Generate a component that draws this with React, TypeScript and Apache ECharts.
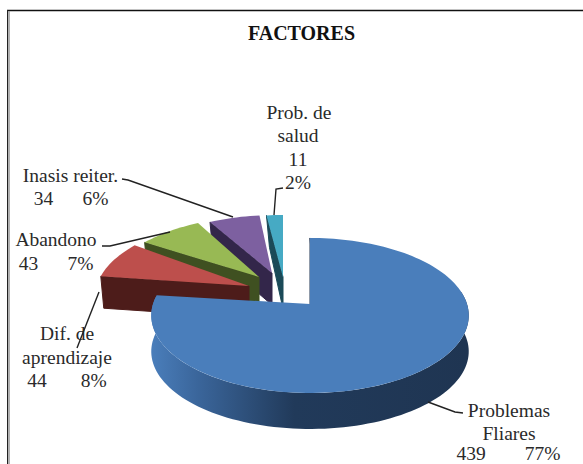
import React, { useEffect, useRef } from "react";
import * as echarts from "echarts";

const categories = ["Problemas Fliares", "Dif. de aprendizaje", "Abandono", "Inasis reiter.", "Prob. de salud"];
const values = [439, 44, 43, 34, 11];
const percents = ["77%", "8%", "7%", "6%", "2%"];
const topColors = ["#4a7ebb", "#bd4f4c", "#98b954", "#7d60a0", "#46aac4"];
const sideColors = ["#1f3552", "#4d1c1a", "#3f5021", "#33264a", "#1b4a58"];
const explodeX = [0, -56, -46, -34, -27];
const explodeY = [0, -19, -22, -23, -23];
const apexNudgeX = [0, -5, -5, -4, 0];
const apexNudgeY = [0, 1, -5, -8, -4];
const depths = [36, 32, 32, 32, 32];

const CX = 310, CY = 304, RX = 157, RY = 75.8, K = 0.148;
const total = values.reduce((a, b) => a + b, 0);

function project(deg: number): [number, number] {
  const t = (deg * Math.PI) / 180;
  const u = Math.sin(t), v = -Math.cos(t);
  const w = 1 - K * v;
  return [CX + (RX * u) / w, CY + (RY * v) / w];
}
function arc(a: number, b: number): [number, number][] {
  const n = Math.max(4, Math.ceil(Math.abs(b - a) / 2));
  const out: [number, number][] = [];
  for (let i = 0; i <= n; i++) out.push(project(a + ((b - a) * i) / n));
  return out;
}
const pts = (list: [number, number][], dx: number, dy: number) =>
  list.map((p) => [p[0] + dx, p[1] + dy]);

const renderSlice = (_params: any, api: any) => {
  const idx = api.value(0);
  const val = api.value(1);
  let before = 0;
  for (let i = 0; i < idx; i++) before += values[i];
  const a0 = (before / total) * 360;
  const a1 = ((before + val) / total) * 360;
  const dx = explodeX[idx], dy = explodeY[idx], d = depths[idx];
  const apex: [number, number] = [CX + dx + apexNudgeX[idx], CY + dy + apexNudgeY[idx]];
  const outer = pts(arc(a0, a1), dx, dy) as [number, number][];
  const children: any[] = [];
  const s = outer[0];
  children.push({
    type: "polygon",
    shape: { points: [s, apex, [apex[0], apex[1] + d], [s[0] + 3, s[1] + d]] },
    style: { fill: sideColors[idx], stroke: sideColors[idx], lineWidth: 1 },
  });
  if (idx === 0) {
    const wallArc = arc(80, a1);
    const wall = [...wallArc, ...wallArc.slice().reverse().map((p) => [p[0], p[1] + d] as [number, number])];
    children.push({
      type: "polygon",
      shape: { points: wall },
      style: {
        fill: new echarts.graphic.LinearGradient(1, 0, 0, 0, [
          { offset: 0, color: "#1f3552" },
          { offset: 0.55, color: "#213a5a" },
          { offset: 0.85, color: "#3a659a" },
          { offset: 1, color: "#4a7ebb" },
        ]),
      },
    });
  }
  children.push({
    type: "polygon",
    shape: { points: [apex, ...outer] },
    style: { fill: topColors[idx] },
  });
  return { type: "group", children };
};

const textStyle = { fontFamily: "Liberation Serif", fontSize: 19.5, fill: "#2a2a2a" };
const label = (x: number, y: number, text: string) => ({
  type: "text",
  x,
  y,
  style: { ...textStyle, text, align: "center", verticalAlign: "middle" },
});
const pair = (i: number, gap: number) =>
  String(values[i]) + "\u00a0".repeat(gap) + percents[i];
const leader = (points: number[][]) => ({
  type: "polyline",
  shape: { points },
  style: { stroke: "#222222", lineWidth: 1.4, fill: "none" },
  z: 10,
});

export default function App() {
  const ref = useRef<HTMLDivElement>(null);
  useEffect(() => {
    const chart = echarts.init(ref.current!, undefined, { renderer: "svg" });
    chart.setOption({
      animation: false,
      backgroundColor: "#ffffff",
      title: {
        text: "FACTORES",
        left: 296.5,
        top: 18,
        textAlign: "center",
        textStyle: { fontFamily: "Liberation Serif", fontSize: 20, fontWeight: "bold", color: "#111111" },
      },
      series: [
        {
          type: "custom",
          coordinateSystem: "none",
          renderItem: renderSlice,
          silent: true,
          data: values.map((v, i) => [i, v, categories[i]]).reverse(),
        },
      ],
      graphic: [
        { type: "line", shape: { x1: 7, y1: 10.5, x2: 583, y2: 10.5 }, style: { stroke: "#111111", lineWidth: 1.5 } },
        { type: "line", shape: { x1: 7.5, y1: 10, x2: 7.5, y2: 464 }, style: { stroke: "#222222", lineWidth: 1 } },
        { type: "line", shape: { x1: 9, y1: 11, x2: 9, y2: 464 }, style: { stroke: "#999999", lineWidth: 1.5 } },
        leader([[122, 179], [128, 180], [233, 217]]),
        leader([[102, 246], [110, 246], [170, 232]]),
        leader([[99, 292], [77, 348]]),
        leader([[283, 188], [276, 189], [274, 215]]),
        leader([[463, 413], [455, 412], [428, 402]]),
        label(509, 410, "Problemas"),
        label(509, 433, "Fliares"),
        label(508.5, 453, pair(0, 8)),
        label(67, 333, "Dif. de"),
        label(67, 357, "aprendizaje"),
        label(67, 380, pair(1, 7)),
        label(56, 239, "Abandono"),
        label(56, 263, pair(2, 6)),
        label(70.5, 175, "Inasis reiter."),
        label(71, 198, pair(3, 6)),
        label(299, 112, "Prob. de"),
        label(298, 135, "salud"),
        label(298, 159, String(values[4])),
        label(298, 182, percents[4]),
      ],
    });
    return () => chart.dispose();
  }, []);
  return <div ref={ref} style={{ position: "absolute", left: 0, top: 0, width: 583, height: 464 }} />;
}
